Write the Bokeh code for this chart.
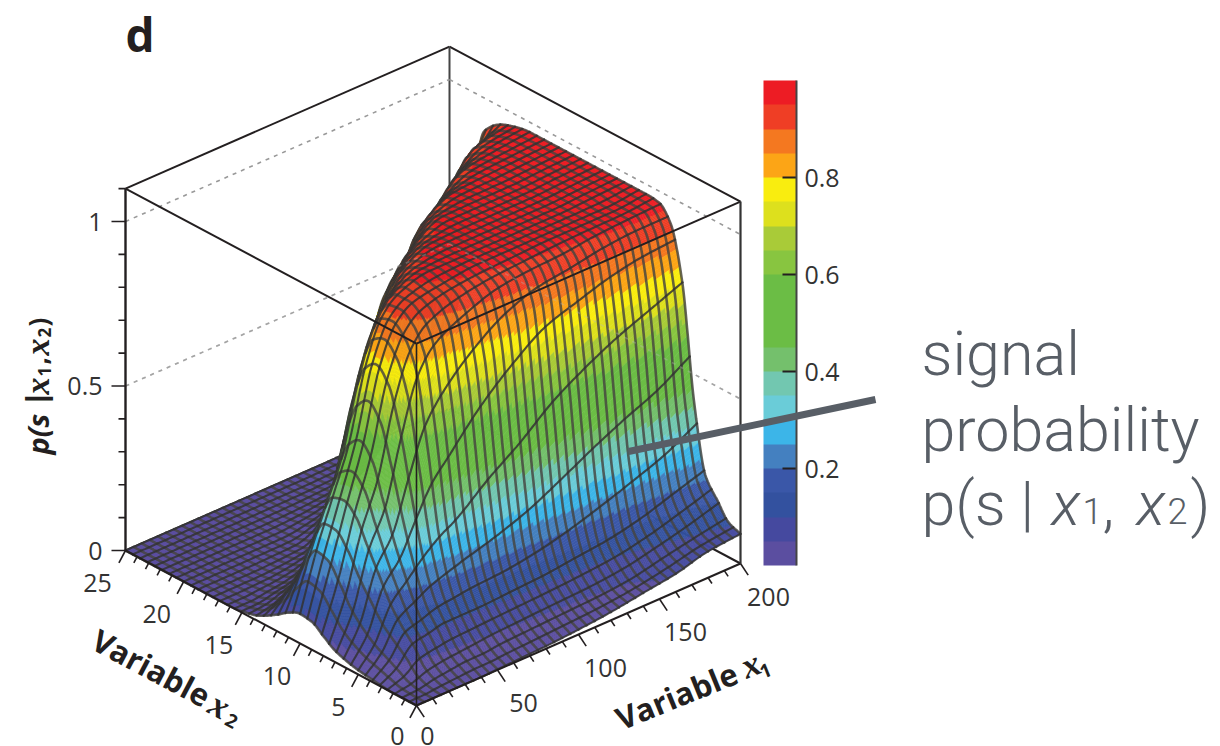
import numpy as np
from bokeh.plotting import figure
from bokeh.models import ColorBar, LinearColorMapper, FixedTicker, ColumnDataSource
from bokeh.core.properties import value
from bokeh.embed import file_html
from bokeh.resources import INLINE

# ---- data ----
x1_nodes = [0, 10, 20, 30, 40, 50, 60, 80, 100, 120, 140, 160, 180, 200]
x2_nodes = [0, 1, 2, 3, 4, 5, 6, 7, 8, 9, 10, 11, 12, 14, 16, 18, 20, 22, 24, 25]
p_x1_000 = [0, 0, 0, .003, .008, .013, .022, .035, .06, .085, .09, .075, .05, .012, 0, 0, 0, 0, 0, 0]
p_x1_010 = [0, .002, .01, .03, .05, .07, .10, .14, .20, .25, .26, .20, .12, .02, 0, 0, 0, 0, 0, 0]
p_x1_020 = [0, .01, .03, .08, .12, .17, .24, .31, .38, .41, .40, .32, .20, .04, .005, 0, 0, 0, 0, 0]
p_x1_030 = [0, .015, .04, .09, .14, .22, .31, .42, .53, .57, .54, .44, .29, .06, .01, 0, 0, 0, 0, 0]
p_x1_040 = [0, .02, .045, .1, .16, .27, .44, .62, .74, .78, .75, .64, .46, .12, .02, .002, 0, 0, 0, 0]
p_x1_050 = [.002, .02, .05, .1, .17, .31, .56, .78, .86, .89, .88, .80, .64, .24, .04, .005, 0, 0, 0, 0]
p_x1_060 = [.004, .025, .055, .1, .18, .34, .63, .85, .91, .93, .93, .89, .78, .42, .09, .01, 0, 0, 0, 0]
p_x1_080 = [.008, .03, .06, .105, .19, .42, .74, .9, .94, .95, .96, .95, .93, .80, .42, .10, .015, .002, 0, 0]
p_x1_100 = [.015, .035, .065, .11, .21, .49, .82, .93, .95, .96, .96, .96, .96, .92, .72, .32, .06, .008, 0, 0]
p_x1_120 = [.025, .04, .07, .12, .24, .57, .87, .94, .955, .96, .96, .96, .96, .96, .91, .65, .20, .02, .002, 0]
p_x1_140 = [.04, .05, .08, .13, .28, .63, .89, .945, .96, .96, .96, .96, .96, .96, .955, .86, .50, .10, .01, .003]
p_x1_160 = [.055, .07, .1, .15, .32, .68, .91, .955, .96, .96, .96, .96, .96, .96, .96, .945, .80, .35, .05, .015]
p_x1_180 = [.08, .09, .125, .18, .36, .72, .92, .96, .96, .96, .965, .965, .965, .965, .965, .96, .93, .68, .15, .05]
p_x1_200 = [.09, .105, .155, .21, .42, .76, .92, .965, .97, .97, .97, .97, .97, .97, .97, .97, .955, .90, .40, .20]
p_columns = [p_x1_000, p_x1_010, p_x1_020, p_x1_030, p_x1_040, p_x1_050, p_x1_060,
             p_x1_080, p_x1_100, p_x1_120, p_x1_140, p_x1_160, p_x1_180, p_x1_200]

band_colors = ["#5b4ea0", "#45499f", "#33519f", "#3a57a8", "#4480c0", "#3cb5e8", "#6accd8",
               "#72c7b0", "#74c06c", "#6bbd45", "#6bbd45", "#6bbd45", "#88c540", "#a9cb38",
               "#dde01d", "#f9ed0f", "#fca516", "#f47820", "#ef3e25", "#ed1c24"]

x1_major = [0, 50, 100, 150, 200]
x2_major = [0, 5, 10, 15, 20, 25]
x1_label_dx = [11, 26, 27, 26, 28]
x1_label_dy = [30, 33, 33, 33, 33]
x2_label_dx = [-19, -20, -23, -23, -27, -28]
x2_label_dy = [30, 32, 32, 32, 32, 32]
z_major = [0, 0.5, 1]
z_labels = ["0", "0.5", "1"]
cbar_ticks = [0.2, 0.4, 0.6, 0.8]

INK = "#231f20"
W, H = 1220, 746
p = figure(width=W, height=H, x_range=(0, W), y_range=(H, 0), x_axis_type=None, y_axis_type=None,
           output_backend="svg", toolbar_location=None, min_border=0, outline_line_color=None)
p.grid.visible = False

# orthographic projection of the box
O = np.array([416.0, 705.0]); VX = np.array([324.0, -142.0]); VY = np.array([-291.0, -155.0]); ZPX = 329.0
def proj(x1, x2, z):
    x1 = np.asarray(x1, float) / 200.0; x2 = np.asarray(x2, float) / 25.0; z = np.asarray(z, float)
    return O[0] + VX[0] * x1 + VY[0] * x2, O[1] + VX[1] * x1 + VY[1] * x2 - ZPX * z

def seg3(a, b, **kw):
    xs, ys = proj([a[0], b[0]], [a[1], b[1]], [a[2], b[2]])
    return p.line(xs, ys, **kw)

ZT = 1.1
# back of the box
box = dict(line_color=INK, line_width=2)
seg3((0, 25, ZT), (200, 25, ZT), **box)
seg3((200, 25, ZT), (200, 0, ZT), **box)
seg3((200, 25, 0), (200, 25, ZT), line_color="#444444", line_width=2)
seg3((0, 25, 0), (200, 25, 0), **box)
seg3((200, 0, 0), (200, 25, 0), **box)
for zg in (0.5, 1.0):
    seg3((0, 25, zg), (200, 25, zg), line_color="#999999", line_width=1.6, line_dash="4 5")
    seg3((200, 25, zg), (200, 0, zg), line_color="#999999", line_width=1.6, line_dash="4 5")

def pchip(xk, yk, x):
    xk = np.asarray(xk, float); yk = np.asarray(yk, float)
    h = np.diff(xk); s = np.diff(yk) / h
    m = np.zeros_like(yk)
    for i in range(1, len(xk) - 1):
        if s[i - 1] * s[i] > 0:
            w1 = 2 * h[i] + h[i - 1]; w2 = h[i] + 2 * h[i - 1]
            m[i] = (w1 + w2) / (w1 / s[i - 1] + w2 / s[i])
    m[0] = s[0]; m[-1] = s[-1]
    k = np.clip(np.searchsorted(xk, x, side="right") - 1, 0, len(h) - 1)
    t = (x - xk[k]) / h[k]
    return ((2*t**3 - 3*t**2 + 1) * yk[k] + (t**3 - 2*t**2 + t) * h[k] * m[k]
            + (-2*t**3 + 3*t**2) * yk[k + 1] + (t**3 - t**2) * h[k] * m[k + 1])

# surface, painted from back to front
P = np.array(p_columns)
SUB = 12
fx1 = np.linspace(0, 200, 161)
fx2 = np.linspace(0, 25, 40 * SUB + 1)
tmp = np.array([pchip(x2_nodes, c, fx2) for c in P])
Z = np.array([pchip(x1_nodes, tmp[:, j], fx1) for j in range(len(fx2))]).T  # (n1,n2)
X, Y = proj(fx1[:, None], fx2[None, :], Z)
cell = (Z[:-1, :-1] + Z[1:, :-1] + Z[:-1, 1:] + Z[1:, 1:]) / 4
band = np.clip((cell / 0.05).astype(int), 0, 19)

d = dict(xs=[], ys=[], fc=[], fa=[], lc=[], la=[], lw=[])
def add(xs, ys, fc, fa, lc, la, lw):
    d["xs"].append(xs); d["ys"].append(ys); d["fc"].append(fc); d["fa"].append(fa)
    d["lc"].append(lc); d["la"].append(la); d["lw"].append(lw)

X1L = ("#45443f", 0.82, 2.6)
X2L = ("#333333", 0.85, 2.1)
for m in range(39, -1, -1):
    for j in range((m + 1) * SUB - 1, m * SUB - 1, -1):
        row = band[:, j]
        cuts = [0] + list(np.nonzero(np.diff(row))[0] + 1) + [len(row)]
        for s, e in zip(cuts[:-1], cuts[1:]):
            xs = np.r_[X[s:e + 1, j], X[s:e + 1, j + 1][::-1]]
            ys = np.r_[Y[s:e + 1, j], Y[s:e + 1, j + 1][::-1]]
            c = band_colors[row[s]]
            add(xs.round(1).tolist(), ys.round(1).tolist(), c, 1.0, c, 1.0, 0.6)
    # lines of constant x1 in this strip
    for i in range(0, 161, 4):
        a, b = m * SUB, (m + 1) * SUB + 1
        xs = X[i, a:b]; ys = Y[i, a:b]
        add(np.r_[xs, xs[::-1]].round(1).tolist(), np.r_[ys, ys[::-1]].round(1).tolist(), "#000000", 0.0, *X1L)
    # line of constant x2 at the strip's back edge
    k = (m + 1) * SUB
    add(np.r_[X[:, k], X[:, k][::-1]].round(1).tolist(), np.r_[Y[:, k], Y[:, k][::-1]].round(1).tolist(), "#000000", 0.0, *X2L)
add(np.r_[X[:, 0], X[:, 0][::-1]].round(1).tolist(), np.r_[Y[:, 0], Y[:, 0][::-1]].round(1).tolist(), "#000000", 0.0, *X2L)

p.patches("xs", "ys", source=ColumnDataSource(d), fill_color="fc", fill_alpha="fa", line_color="lc",
          line_alpha="la", line_width="lw", line_join="round")

# the z = 0.5 grid line shows faintly through the surface
seg3((0, 25, 0.5), (200, 25, 0.5), line_color="#bbbbbb", line_alpha=0.35, line_width=1.6, line_dash="4 5")
seg3((200, 25, 0.5), (200, 0, 0.5), line_color="#bbbbbb", line_alpha=0.35, line_width=1.6, line_dash="4 5")

# front of the box
seg3((0, 0, ZT), (200, 0, ZT), **box)
seg3((0, 0, ZT), (0, 25, ZT), **box)
seg3((0, 0, 0), (0, 0, ZT), line_color=INK, line_width=1.6)
seg3((0, 25, 0), (0, 25, ZT), line_color=INK, line_width=2.4)
seg3((200, 0, 0), (200, 0, ZT), line_color="#333333", line_width=2.2)
seg3((0, 0, 0), (200, 0, 0), **box)
seg3((0, 0, 0), (0, 25, 0), **box)

# ticks
tx0, ty0, tx1, ty1 = [], [], [], []
for v in range(0, 201, 10):
    x, y = proj(v, 0, 0); L = 14 if v % 50 == 0 else 7
    tx0.append(float(x)); ty0.append(float(y)); tx1.append(float(x) + .55 * L); ty1.append(float(y) + .83 * L)
for v in range(0, 26):
    x, y = proj(0, v, 0); L = 14 if v % 5 == 0 else 7
    tx0.append(float(x)); ty0.append(float(y)); tx1.append(float(x) - .47 * L); ty1.append(float(y) + .88 * L)
for i in range(0, 12):
    x, y = proj(0, 25, i / 10); L = 14 if i % 5 == 0 else 7
    tx0.append(float(x)); ty0.append(float(y)); tx1.append(float(x) - L); ty1.append(float(y))
p.segment(tx0, ty0, tx1, ty1, line_color=INK, line_width=1.6)

# tick labels
F = value("Open Sans")
lx, ly = proj(x1_major, [0] * 5, [0] * 5)
p.text(lx + np.array(x1_label_dx), ly + np.array(x1_label_dy), text=[str(v) for v in x1_major], text_font=F, text_font_size="25px",
       text_color="#333333", text_align="center", text_baseline="middle")
lx, ly = proj([0] * 6, x2_major, [0] * 6)
p.text(lx + np.array(x2_label_dx), ly + np.array(x2_label_dy), text=[str(v) for v in x2_major], text_font=F, text_font_size="25px",
       text_color="#333333", text_align="center", text_baseline="middle")
lx, ly = proj([0] * 3, [25] * 3, z_major)
p.text(lx - 23, ly, text=z_labels, text_font=F, text_font_size="25px", text_color="#333333",
       text_align="right", text_baseline="middle")

def T(x, y, s, font, size, style="normal", angle=0, align="left", baseline="middle", color=INK):
    p.text([x], [y], text=[s], text_font=value(font), text_font_size=size, text_font_style=style,
           angle=[np.deg2rad(angle)], text_align=align, text_baseline=baseline, text_color=color, level="overlay")

T(125, 33, "d", "Open Sans", "46px", "bold")
# axis titles
T(676, 695, "Variable", "Open Sans", "31px", "bold", 22, "center", "middle")
T(750, 664, "x", "Liberation Serif", "36px", "bold italic", 22, "center", "middle")
T(765, 670, "1", "Open Sans", "19px", "bold", 22, "center", "middle")
T(151, 667, "Variable", "Open Sans", "31px", "bold", -28, "center", "middle")
T(219, 705, "x", "Liberation Serif", "36px", "bold italic", -28, "center", "middle")
T(231, 720, "2", "Open Sans", "19px", "bold", -28, "center", "middle")
# z title (rotated)
T(37, 454, "p(s", "Open Sans", "29px", "bold italic", 90)
T(36, 398, "|", "Liberation Sans", "30px", "bold", 90, "center")
T(37, 394, "x", "Liberation Serif", "34px", "bold italic", 90)
T(44, 376, "1", "Open Sans", "17px", "bold", 90)
T(38, 364, ",", "Open Sans", "26px", "bold", 90)
T(37, 355, "x", "Liberation Serif", "34px", "bold italic", 90)
T(44, 337, "2", "Open Sans", "17px", "bold", 90)
T(37, 326, ")", "Open Sans", "26px", "bold", 90)

# colour bar
mapper = LinearColorMapper(palette=band_colors, low=0, high=1)
cb = ColorBar(color_mapper=mapper, ticker=FixedTicker(ticks=cbar_ticks), location=(763, H - 565), width=33, height=485,
              padding=0, margin=0, title=None, major_tick_in=14, major_tick_out=0, major_tick_line_color=INK,
              major_tick_line_width=2, minor_tick_line_color=None, bar_line_color=None, border_line_color=None,
              background_fill_color=None, major_label_text_font="Open Sans", major_label_text_font_size="25px",
              major_label_text_color="#333333", label_standoff=8, major_label_text_align="left")
p.add_layout(cb)
p.line([796, 796], [80, 565], line_color="#444444", line_width=2, level="overlay")

# annotation
GR = "#585e66"
p.line([628, 875], [451, 399], line_color=GR, line_width=7, level="overlay")
LF = "Roboto Light, Roboto"
T(921, 353, "signal", LF, "61px", color=GR)
T(921, 429, "probability", LF, "61px", color=GR)
T(921, 503, "p(s | ", LF, "61px", color=GR)
T(1051, 503, "x", LF, "61px", "italic", color=GR)
T(1082, 510, "1", LF, "36px", color=GR)
T(1102, 503, ",", LF, "61px", color=GR)
T(1136, 503, "x", LF, "61px", "italic", color=GR)
T(1167, 510, "2", LF, "36px", color=GR)
T(1190, 503, ")", LF, "61px", color=GR)

open("out.html", "w").write(file_html(p, INLINE))
